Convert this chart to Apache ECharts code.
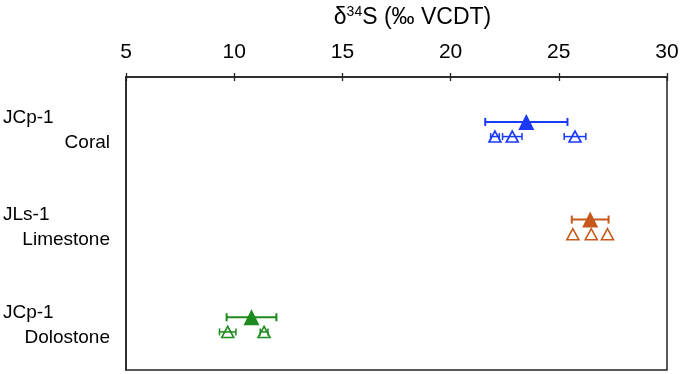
<!DOCTYPE html>
<html>
<head>
<meta charset="utf-8">
<script src="https://cdn.jsdelivr.net/npm/echarts@6/dist/echarts.min.js"></script>
<style>
  html, body { margin: 0; padding: 0; background: #fff; }
  #chart { width: 685px; height: 374px; }
</style>
</head>
<body>
<div id="chart"></div>
<script>
// 样品名称（两行标签）
const sampleIds = ['JCp-1', 'JLs-1', 'JCp-1'];
const lithologies = ['Coral', 'Limestone', 'Dolostone'];
const colors = ['#1a3af7', '#c5581a', '#1c8a1c'];

// 平均值 ± 误差 (δ34S ‰)
const meanValues = [23.5, 26.45, 10.8];
const meanErrors = [1.9, 0.85, 1.15];

// 单次测量值
const coralReps = [22.05, 22.85, 25.75];
const coralRepErrors = [0.2, 0.45, 0.5];
const limestoneReps = [25.65, 26.5, 27.25];
const limestoneRepErrors = [0, 0, 0];
const dolostoneReps = [9.7, 11.38];
const dolostoneRepErrors = [0.38, 0.18];

const xTicks = [5, 10, 15, 20, 25, 30];

const repValues = [coralReps, limestoneReps, dolostoneReps];
const repErrors = [coralRepErrors, limestoneRepErrors, dolostoneRepErrors];

const meanOffset = 0.46;  // 在每个分区里的位置
const repOffset = 0.61;

const FONT = 'Liberation Sans, Arial, sans-serif';

var myChart = echarts.init(document.getElementById('chart'));

// 误差线：横线加两端短竖线
let errorBar = (color, capHalf, lineW) => {
    return function (params, api) {
        const lo = api.coord([api.value(0), api.value(2)]);
        const hi = api.coord([api.value(1), api.value(2)]);
        const style = { stroke: color, lineWidth: lineW };
        return {
            type: 'group',
            children: [
                { type: 'line', shape: { x1: lo[0], y1: lo[1], x2: hi[0], y2: hi[1] }, style: style },
                { type: 'line', shape: { x1: lo[0], y1: lo[1] - capHalf, x2: lo[0], y2: lo[1] + capHalf }, style: style },
                { type: 'line', shape: { x1: hi[0], y1: hi[1] - capHalf, x2: hi[0], y2: hi[1] + capHalf }, style: style }
            ]
        };
    };
};

let series = [];
lithologies.forEach((name, i) => {
    const color = colors[i];
    // 单次测量误差线
    let repBars = [];
    repValues[i].forEach((v, k) => {
        const e = repErrors[i][k];
        if (e > 0) repBars.push([v - e, v + e, i + repOffset]);
    });
    series.push({
        type: 'custom',
        yAxisIndex: 1,
        renderItem: errorBar(color, 3.5, 1.5),
        data: repBars,
        z: 2
    });
    // 平均值误差线
    series.push({
        type: 'custom',
        yAxisIndex: 1,
        renderItem: errorBar(color, 4, 2),
        data: [[meanValues[i] - meanErrors[i], meanValues[i] + meanErrors[i], i + meanOffset]],
        z: 2
    });
    // 单次测量（空心三角）
    series.push({
        type: 'scatter',
        yAxisIndex: 1,
        symbol: 'triangle',
        symbolSize: [12, 11],
        itemStyle: { color: 'rgba(0,0,0,0)', borderColor: color, borderWidth: 1.6, opacity: 1 },
        data: repValues[i].map(v => [v, i + repOffset]),
        z: 3
    });
    // 平均值（实心三角）
    series.push({
        type: 'scatter',
        yAxisIndex: 1,
        symbol: 'triangle',
        symbolSize: [16, 16],
        itemStyle: { color: color, opacity: 1 },
        data: [[meanValues[i], i + meanOffset]],
        z: 4
    });
});

let option = {
    animation: false,
    backgroundColor: '#fff',
    textStyle: { fontFamily: FONT },
    grid: {
        left: 126, right: 18, top: 76, bottom: 4,
        show: true, borderColor: '#222', borderWidth: 1.5
    },
    xAxis: [{
        type: 'value',
        position: 'top',
        min: xTicks[0], max: xTicks[xTicks.length - 1], interval: 5,
        name: '{d|δ}{s|34}{d|S (‰ VCDT)}',
        nameLocation: 'middle',
        nameGap: 47,
        nameTextStyle: {
            padding: [0, 0, 0, 32],
            rich: {
                d: { fontSize: 23, color: '#000', fontFamily: FONT },
                s: { fontSize: 14, color: '#000', verticalAlign: 'middle', padding: [0, 0, 11, 0], fontFamily: FONT }
            }
        },
        axisLine: { lineStyle: { color: '#222', width: 1.5 } },
        axisTick: { length: 4, lineStyle: { color: '#222', width: 1.3 } },
        axisLabel: { fontSize: 21, color: '#000', margin: 14, fontFamily: FONT },
        splitLine: { show: false }
    }, {
        type: 'value',
        position: 'top',
        min: xTicks[0], max: xTicks[xTicks.length - 1], interval: 5,
        axisLine: { show: false },
        axisTick: { inside: true, length: 4, lineStyle: { color: '#222', width: 1.3 } },
        axisLabel: { show: false },
        splitLine: { show: false }
    }],
    yAxis: [{
        type: 'category',
        inverse: true,
        boundaryGap: true,
        data: sampleIds.map((id, i) => '{a|' + id + '}\n{b|' + lithologies[i] + '}'),
        axisLine: { lineStyle: { color: '#222', width: 1.5 } },
        axisTick: { length: 5, lineStyle: { color: '#222', width: 1.3 } },
        axisLabel: {
            margin: 16,
            rich: {
                a: { fontSize: 19, color: '#000', width: 107, align: 'left', lineHeight: 25, fontFamily: FONT },
                b: { fontSize: 19, color: '#000', width: 107, align: 'right', lineHeight: 25, fontFamily: FONT }
            },
            padding: [8, 0, 0, 0]
        }
    }, {
        type: 'value',
        inverse: true,
        min: 0, max: 3,
        show: false
    }],
    series: series
};

myChart.setOption(option);
</script>
</body>
</html>
